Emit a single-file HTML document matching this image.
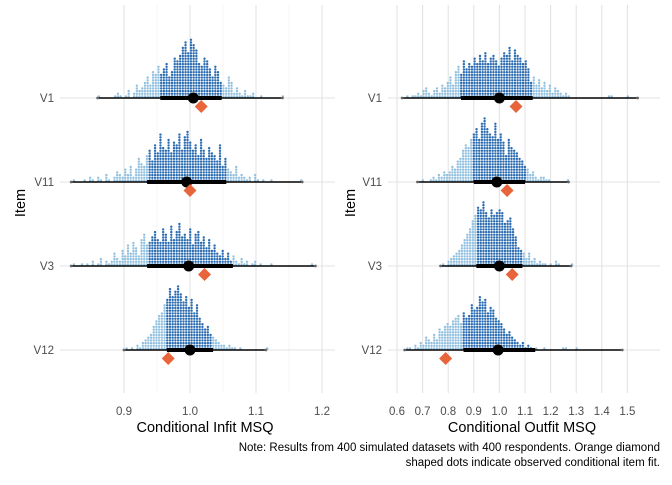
<!DOCTYPE html>
<html><head><meta charset="utf-8"><style>
html,body{margin:0;padding:0;background:#fff;}
svg text{font-family:"Liberation Sans",Arial,sans-serif;}
</style></head><body>
<svg id="chart" width="672" height="480" viewBox="0 0 672 480" xmlns="http://www.w3.org/2000/svg"></svg>
<script>
// ---- data ----
const items = ["V1","V11","V3","V12"];
const infitBin = 0.0041;
const infitStart = [0.860, 0.822, 0.822, 0.902];
const infitV1  = [1,0,0,0,0,0,1,2,1,0,1,3,0,2,5,3,4,6,8,5,10,9,12,9,11,13,8,10,15,14,16,19,21,17,22,20,18,13,12,15,14,11,8,12,10,6,5,4,8,6,2,4,2,1,3,1,1,2,0,0,1,0,0,0,0,0,0,0,1];
const infitV11 = [1,0,0,0,1,0,2,1,0,2,1,0,3,1,0,2,4,3,2,5,3,6,2,5,9,7,6,10,12,8,14,11,18,13,12,16,11,15,14,18,12,17,19,15,12,14,10,16,12,9,13,11,10,8,14,6,9,5,4,3,6,2,3,2,1,2,0,3,1,0,1,0,0,1,0,0,0,0,0,0,0,0,0,0,1];
const infitV3  = [1,0,0,1,0,1,0,2,0,1,3,0,2,1,2,5,3,2,6,4,8,5,9,7,4,10,12,8,9,11,13,10,9,14,12,9,15,10,13,16,11,12,10,14,8,12,13,9,11,7,10,6,8,5,4,6,3,5,2,4,2,1,3,1,2,0,1,2,0,1,0,0,0,1,0,0,0,0,0,0,0,0,0,0,0,0,0,0,1];
const infitV12 = [1,0,1,0,2,1,3,4,5,6,9,11,13,14,17,19,23,20,22,24,21,18,20,16,19,14,17,12,10,8,9,6,5,4,3,2,2,1,2,1,1,0,1,0,0,0,0,0,0,0,0,0,1];
const infitMin = [0.86, 0.82, 0.82, 0.90];
const infitMax = [1.14, 1.17, 1.19, 1.115];
const infitLo  = [0.955, 0.935, 0.935, 0.965];
const infitHi  = [1.048, 1.055, 1.065, 1.035];
const infitMed = [1.005, 0.995, 0.998, 1.000];
const infitObs = [1.017, 1.000, 1.022, 0.967];
const outfitBin = 0.0105;
const outfitStart = [0.625, 0.685, 0.775, 0.635];
const outfitV1  = [0,1,0,1,1,2,1,3,4,2,1,3,4,2,5,4,6,8,5,10,12,9,14,11,13,12,15,13,16,14,17,13,15,16,14,12,15,17,16,19,14,18,16,15,13,14,11,6,8,5,7,4,6,3,5,2,4,3,2,1,2,1,0,0,0,0,0,0,0,0,0,0,0,0,0,0,1,1,0,0,0,0,0,1];
const outfitV11 = [0,1,0,0,1,2,1,3,2,4,3,4,6,5,8,9,12,14,13,16,18,20,16,22,24,20,18,17,22,16,18,15,10,16,13,12,11,9,8,6,5,3,4,2,1,2,2,1,1,0,0,0,0,0,0,1];
const outfitV3  = [1,0,2,3,4,5,6,8,10,12,14,17,19,22,21,24,20,18,21,19,20,21,20,16,17,18,14,11,7,6,5,3,5,2,3,1,2,1,1,0,1,0,2,1,0,0,0,0,1];
const outfitV12 = [1,1,0,2,1,3,2,5,4,3,6,4,8,7,9,10,9,11,12,13,10,14,12,13,17,15,16,20,18,19,14,16,15,12,11,10,8,6,7,5,4,3,2,3,1,2,1,0,1,0,0,1,0,0,0,0,0,0,1,1,0,0,0,1];
const outfitMin = [0.62, 0.68, 0.77, 0.63];
const outfitMax = [1.54, 1.27, 1.28, 1.48];
const outfitLo  = [0.85, 0.90, 0.91, 0.86];
const outfitHi  = [1.13, 1.10, 1.09, 1.14];
const outfitMed = [1.00, 0.99, 1.00, 0.995];
const outfitObs = [1.065, 1.03, 1.05, 0.79];
const infitTicks = [0.9,1.0,1.1,1.2];
const infitTickLabels = ["0.9","1.0","1.1","1.2"];
const outfitTicks = [0.6,0.7,0.8,0.9,1.0,1.1,1.2,1.3,1.4,1.5];
const outfitTickLabels = ["0.6","0.7","0.8","0.9","1.0","1.1","1.2","1.3","1.4","1.5"];

const NS="http://www.w3.org/2000/svg";
const svg=document.getElementById('chart');
function mk(tag,attrs,parent){const e=document.createElementNS(NS,tag);for(const k in attrs)e.setAttribute(k,attrs[k]);(parent||svg).appendChild(e);return e;}
const rowY=[98,182,266,350];
const DOT=2.7;

function panel(cfg){
  const g=mk('g',{});
  
  
  const x=v=>cfg.x0+(v-cfg.v0)*cfg.scale;
  if(cfg.minor){cfg.ticks.slice(0,-1).forEach(t=>{const l=mk('line',{x1:x(t+0.05),x2:x(t+0.05),y1:cfg.top,y2:cfg.bottom,stroke:'#f0f0f0','stroke-width':0.6},g);});}
  cfg.ticks.forEach((t,i)=>{
    const l=mk('line',{x1:x(t),x2:x(t),y1:cfg.top,y2:cfg.bottom,stroke:'#e3e3e3','stroke-width':1.1},g);
    
    const tx=mk('text',{x:x(t),y:415,'text-anchor':'middle','font-size':11.5,fill:'#4d4d4d'},g);
    tx.textContent=cfg.tickLabels[i];
    
  });
  rowY.forEach(y=>{const l=mk('line',{x1:cfg.left,x2:cfg.right,y1:y,y2:y,stroke:'#e3e3e3','stroke-width':1.1},g);});
  items.forEach((it,i)=>{
    const y=rowY[i];
    const lab=mk('text',{x:cfg.left-6,y:y+4,'text-anchor':'end','font-size':11.5,fill:'#4d4d4d'},g);
    lab.textContent=it;
    const counts=cfg.counts[i];
    counts.forEach((c,b)=>{
      const v=cfg.start[i]+(b+0.5)*cfg.bin;
      const inside=v>=cfg.lo[i]&&v<=cfg.hi[i];
      for(let k=0;k<c;k++){
        const d=mk('circle',{cx:x(v),cy:y-1.5-k*DOT,r:1.2,fill:inside?'#2c6db2':'#93c1e0'},g);
        
      }
    });
    const w=mk('line',{x1:x(cfg.min[i]),x2:x(cfg.max[i]),y1:y,y2:y,stroke:'#000','stroke-width':1.6},g);
    
    [cfg.min[i],cfg.max[i]].forEach(v=>{const e=mk('circle',{cx:x(v),cy:y,r:1.4,fill:'#666'},g);});
    const t=mk('line',{x1:x(cfg.lo[i]),x2:x(cfg.hi[i]),y1:y,y2:y,stroke:'#000','stroke-width':4},g);
    
    const m=mk('circle',{cx:x(cfg.med[i]),cy:y,r:5.5,fill:'#000'},g);
    
    const ox=x(cfg.obs[i]),oy=y+8.5;
    const o=mk('polygon',{points:`${ox},${oy-6.5} ${ox+6.5},${oy} ${ox},${oy+6.5} ${ox-6.5},${oy}`,fill:'#e8643a'},g);
    
  });
  const tt=mk('text',{x:(cfg.titleX),y:432,'text-anchor':'middle','font-size':14.5,fill:'#000'},g);
  tt.textContent=cfg.title;
  const yt=mk('text',{x:0,y:0,'text-anchor':'middle','font-size':14.5,fill:'#000',transform:`translate(${cfg.itemX},203) rotate(-90)`},g);
  yt.textContent='Item';
}
panel({name:'infit-panel',x0:124,v0:0.9,scale:660,left:60,right:335,top:5,bottom:393,minor:true,
  ticks:infitTicks,tickLabels:infitTickLabels,counts:[infitV1,infitV11,infitV3,infitV12],start:infitStart,bin:infitBin,
  min:infitMin,max:infitMax,lo:infitLo,hi:infitHi,med:infitMed,obs:infitObs,title:'Conditional Infit MSQ',titleX:205,itemX:25});
panel({name:'outfit-panel',x0:397,v0:0.6,scale:256,left:388,right:660,top:5,bottom:393,minor:false,
  ticks:outfitTicks,tickLabels:outfitTickLabels,counts:[outfitV1,outfitV11,outfitV3,outfitV12],start:outfitStart,bin:outfitBin,
  min:outfitMin,max:outfitMax,lo:outfitLo,hi:outfitHi,med:outfitMed,obs:outfitObs,title:'Conditional Outfit MSQ',titleX:522,itemX:355});
const n1=mk('text',{x:660,y:451,'text-anchor':'end','font-size':11.5,fill:'#000'});
n1.textContent='Note: Results from 400 simulated datasets with 400 respondents. Orange diamond';

const n2=mk('text',{x:660,y:466,'text-anchor':'end','font-size':11.5,fill:'#000'});
n2.textContent='shaped dots indicate observed conditional item fit.';

</script>
</body></html>
